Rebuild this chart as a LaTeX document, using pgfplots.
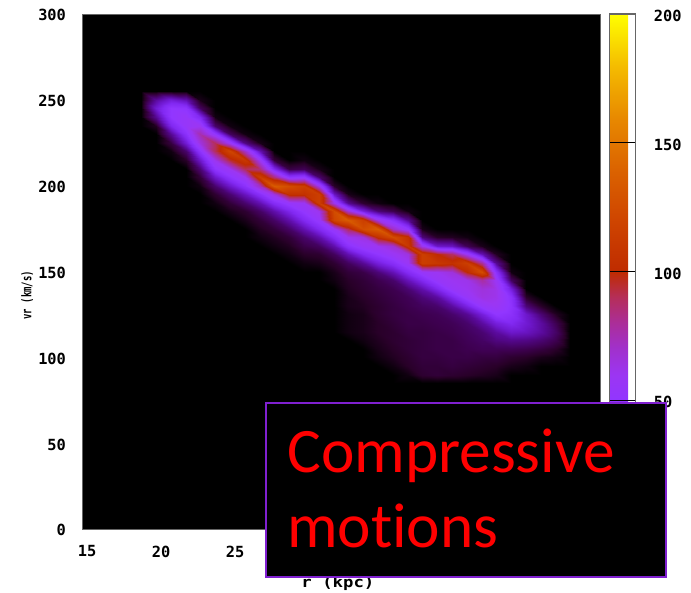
\documentclass[border=0pt]{standalone}
\usepackage{fontspec}
\usepackage{pgfplots}
\pgfplotsset{compat=1.18}
\newfontfamily\gpfont[BoldFont={DejaVu Sans Mono Bold}]{DejaVu Sans Mono}
\newfontfamily\boxfont[Ligatures=NoCommon]{Carlito}
\definecolor{boxedge}{RGB}{128,32,208}
\pgfplotsset{
  colormap={gp}{
    rgb(0pt)=(0,0,0); rgb(5pt)=(.16,0,.16); rgb(10pt)=(.24,0,.31);
    rgb(20pt)=(.34,.03,.58); rgb(30pt)=(.43,.09,.8); rgb(40pt)=(.51,.16,.95);
    rgb(50pt)=(.57,.21,1); rgb(60pt)=(.61,.21,.95); rgb(70pt)=(.63,.19,.8);
    rgb(80pt)=(.67,.18,.6); rgb(90pt)=(.71,.18,.35); rgb(100pt)=(.75,.17,0);
    rgb(120pt)=(.81,.27,0); rgb(140pt)=(.86,.39,0); rgb(160pt)=(.91,.54,0);
    rgb(180pt)=(.96,.74,0); rgb(200pt)=(1,1,0)
  }
}
\begin{document}
\begin{tikzpicture}[x=0.75pt,y=0.75pt]
\path[use as bounding box] (0,0) rectangle (691,592);
\begin{axis}[
  at={(61.5pt,47.25pt)}, anchor=south west,
  scale only axis, width=388.5pt, height=386.25pt,
  xmin=15, xmax=50, ymin=0, ymax=300,
  enlargelimits=false, axis on top,
  axis background/.style={fill=black},
  axis line style={draw=black!60!white, line width=0.4pt},
  major tick length=0pt,
  xtick={15,20,25}, ytick={0,50,...,300},
  /pgf/number format/assume math mode=true,
  ticklabel style={font=\gpfont\bfseries\fontsize{11.5}{13}\selectfont, text=black},
  xticklabel style={xshift=3.75pt, yshift=-9pt},
  yticklabel style={xshift=-8.5pt, yshift=-1pt},
  xlabel={\scalebox{1.18}[1]{r (kpc)}}, ylabel={\scalebox{0.67}[1]{vr (km/s)}},
  xlabel style={at={(axis description cs:0.494,-0.105)}, anchor=center, font=\gpfont\bfseries\fontsize{11}{13}\selectfont},
  ylabel style={at={(axis description cs:-0.106,0.454)}, anchor=center, rotate=0, font=\gpfont\bfseries\fontsize{10}{12}\selectfont},
  colormap name=gp,
  point meta min=0, point meta max=200,
  colorbar,
  colorbar shift/.style={xshift=6.75pt},
  colorbar style={
    width=19.5pt,
    ytick={50,100,150,200},
    major tick length=19.5pt,
    tick align=inside,
    ytick pos=right,
    tick style={draw=black, line width=1.1pt},
    axis line style={draw=black!60!white, line width=0.8pt},
    yticklabel pos=right,
    /pgf/number format/assume math mode=true,
    yticklabel style={font=\gpfont\bfseries\fontsize{11.5}{13}\selectfont, xshift=10.5pt, yshift=-1.5pt, text=black},
  },
]
\addplot[surf, shader=interp, mesh/rows=35, mesh/cols=30, mesh/ordering=y varies, point meta=explicit]
 table[header=false, row sep=\\, x expr={19+floor(\coordindex/35)}, y expr={85+5*mod(\coordindex,35)}, meta index=0] {
0\\0\\0\\0\\0\\0\\0\\ 0\\0\\0\\0\\0\\0\\0\\ 0\\0\\0\\0\\0\\0\\0\\ 0\\0\\0\\0\\0\\0\\0\\ 0\\0\\0\\0\\0\\0\\0\\
0\\0\\0\\0\\0\\0\\0\\ 0\\0\\0\\0\\0\\0\\0\\ 0\\0\\0\\0\\0\\0\\0\\ 0\\0\\0\\0\\0\\0\\0\\ 0\\0\\4\\20\\32\\22\\0\\
0\\0\\0\\0\\0\\0\\0\\ 0\\0\\0\\0\\0\\0\\0\\ 0\\0\\0\\0\\0\\0\\0\\ 0\\0\\0\\0\\0\\0\\2\\ 8\\20\\38\\50\\50\\34\\0\\
0\\0\\0\\0\\0\\0\\0\\ 0\\0\\0\\0\\0\\0\\0\\ 0\\0\\0\\0\\0\\0\\0\\ 0\\0\\0\\0\\0\\5\\14\\ 32\\46\\55\\55\\48\\26\\0\\
0\\0\\0\\0\\0\\0\\0\\ 0\\0\\0\\0\\0\\0\\0\\ 0\\0\\0\\0\\0\\0\\0\\ 0\\0\\2\\7\\15\\30\\48\\ 65\\76\\60\\40\\12\\3\\0\\
0\\0\\0\\0\\0\\0\\0\\ 0\\0\\0\\0\\0\\0\\0\\ 0\\0\\0\\0\\0\\0\\0\\ 2\\6\\14\\30\\48\\62\\90\\ 90\\52\\14\\2\\0\\0\\0\\
0\\0\\0\\0\\0\\0\\0\\ 0\\0\\0\\0\\0\\0\\0\\ 0\\0\\0\\0\\0\\0\\3\\ 7\\15\\30\\48\\60\\95\\120\\ 58\\12\\2\\0\\0\\0\\0\\
0\\0\\0\\0\\0\\0\\0\\ 0\\0\\0\\0\\0\\0\\0\\ 0\\0\\0\\0\\0\\3\\6\\ 14\\28\\46\\60\\90\\110\\70\\ 18\\2\\0\\0\\0\\0\\0\\
0\\0\\0\\0\\0\\0\\0\\ 0\\0\\0\\0\\0\\0\\0\\ 0\\0\\0\\2\\4\\7\\13\\ 25\\45\\72\\115\\85\\58\\25\\ 3\\0\\0\\0\\0\\0\\0\\
0\\0\\0\\0\\0\\0\\0\\ 0\\0\\0\\0\\0\\0\\0\\ 0\\0\\2\\4\\7\\13\\24\\ 42\\65\\135\\85\\40\\7\\0\\ 0\\0\\0\\0\\0\\0\\0\\
0\\0\\0\\0\\0\\0\\0\\ 0\\0\\0\\0\\0\\0\\0\\ 0\\2\\4\\7\\13\\24\\38\\ 54\\105\\125\\48\\9\\0\\0\\ 0\\0\\0\\0\\0\\0\\0\\
0\\0\\0\\0\\0\\0\\0\\ 0\\0\\0\\0\\0\\0\\0\\ 2\\5\\9\\14\\25\\40\\52\\ 58\\105\\115\\52\\11\\2\\0\\ 0\\0\\0\\0\\0\\0\\0\\
0\\0\\0\\0\\0\\0\\0\\ 0\\0\\0\\0\\0\\0\\0\\ 3\\6\\12\\24\\40\\54\\62\\ 115\\115\\62\\14\\3\\0\\0\\ 0\\0\\0\\0\\0\\0\\0\\
0\\0\\0\\0\\0\\0\\0\\ 0\\0\\0\\0\\0\\2\\3\\ 6\\12\\24\\42\\56\\120\\125\\ 62\\28\\5\\0\\0\\0\\0\\ 0\\0\\0\\0\\0\\0\\0\\
0\\0\\0\\0\\0\\0\\2\\ 2\\2\\3\\3\\4\\5\\7\\ 12\\25\\46\\60\\90\\135\\68\\ 20\\3\\0\\0\\0\\0\\0\\ 0\\0\\0\\0\\0\\0\\0\\
0\\0\\0\\0\\0\\2\\3\\ 3\\3\\4\\5\\6\\7\\9\\ 20\\40\\56\\65\\125\\115\\35\\ 6\\0\\0\\0\\0\\0\\0\\ 0\\0\\0\\0\\0\\0\\0\\
0\\0\\0\\2\\3\\4\\5\\ 5\\6\\6\\7\\8\\10\\16\\ 34\\50\\60\\105\\135\\62\\16\\ 2\\0\\0\\0\\0\\0\\0\\ 0\\0\\0\\0\\0\\0\\0\\
0\\0\\2\\4\\5\\6\\6\\ 7\\8\\8\\9\\10\\14\\26\\ 44\\58\\68\\125\\72\\45\\10\\ 0\\0\\0\\0\\0\\0\\0\\ 0\\0\\0\\0\\0\\0\\0\\
0\\2\\5\\6\\7\\7\\8\\ 9\\9\\10\\11\\15\\27\\42\\ 58\\65\\110\\105\\52\\20\\2\\ 0\\0\\0\\0\\0\\0\\0\\ 0\\0\\0\\0\\0\\0\\0\\
0\\6\\7\\8\\8\\8\\8\\ 9\\10\\12\\16\\24\\40\\55\\ 115\\115\\62\\16\\3\\0\\0\\ 0\\0\\0\\0\\0\\0\\0\\ 0\\0\\0\\0\\0\\0\\0\\
0\\7\\7\\8\\9\\9\\9\\ 10\\11\\14\\22\\38\\55\\60\\ 110\\100\\30\\5\\0\\0\\0\\ 0\\0\\0\\0\\0\\0\\0\\ 0\\0\\0\\0\\0\\0\\0\\
0\\6\\8\\9\\9\\9\\10\\ 11\\14\\22\\38\\55\\60\\66\\ 105\\88\\28\\4\\0\\0\\0\\ 0\\0\\0\\0\\0\\0\\0\\ 0\\0\\0\\0\\0\\0\\0\\
0\\5\\7\\9\\10\\11\\12\\ 14\\20\\36\\55\\60\\62\\100\\ 115\\58\\11\\2\\0\\0\\0\\ 0\\0\\0\\0\\0\\0\\0\\ 0\\0\\0\\0\\0\\0\\0\\
0\\4\\6\\8\\11\\13\\15\\ 22\\34\\54\\64\\66\\78\\125\\ 80\\25\\3\\0\\0\\0\\0\\ 0\\0\\0\\0\\0\\0\\0\\ 0\\0\\0\\0\\0\\0\\0\\
0\\3\\5\\8\\11\\17\\22\\ 34\\50\\58\\62\\62\\58\\46\\ 20\\4\\0\\0\\0\\0\\0\\ 0\\0\\0\\0\\0\\0\\0\\ 0\\0\\0\\0\\0\\0\\0\\
0\\0\\3\\6\\11\\19\\30\\ 40\\46\\48\\46\\34\\12\\2\\ 0\\0\\0\\0\\0\\0\\0\\ 0\\0\\0\\0\\0\\0\\0\\ 0\\0\\0\\0\\0\\0\\0\\
0\\0\\2\\5\\10\\18\\28\\ 32\\30\\16\\5\\0\\0\\0\\ 0\\0\\0\\0\\0\\0\\0\\ 0\\0\\0\\0\\0\\0\\0\\ 0\\0\\0\\0\\0\\0\\0\\
0\\0\\0\\3\\8\\15\\22\\ 22\\15\\5\\0\\0\\0\\0\\ 0\\0\\0\\0\\0\\0\\0\\ 0\\0\\0\\0\\0\\0\\0\\ 0\\0\\0\\0\\0\\0\\0\\
0\\0\\0\\2\\5\\10\\13\\ 10\\4\\0\\0\\0\\0\\0\\ 0\\0\\0\\0\\0\\0\\0\\ 0\\0\\0\\0\\0\\0\\0\\ 0\\0\\0\\0\\0\\0\\0\\
0\\0\\0\\0\\0\\0\\0\\ 0\\0\\0\\0\\0\\0\\0\\ 0\\0\\0\\0\\0\\0\\0\\ 0\\0\\0\\0\\0\\0\\0\\ 0\\0\\0\\0\\0\\0\\0\\
};
\end{axis}
\draw[draw=boxedge, fill=black, line width=1.5pt] (266,15) rectangle (666,189);
\node[anchor=base west, inner sep=0pt, text=red, font=\boxfont\fontsize{47.5}{55}\selectfont] at (287,119) {Compressive};
\node[anchor=base west, inner sep=0pt, text=red, font=\boxfont\fontsize{47.5}{55}\selectfont] at (287,45) {motions};
\end{tikzpicture}
\end{document}
